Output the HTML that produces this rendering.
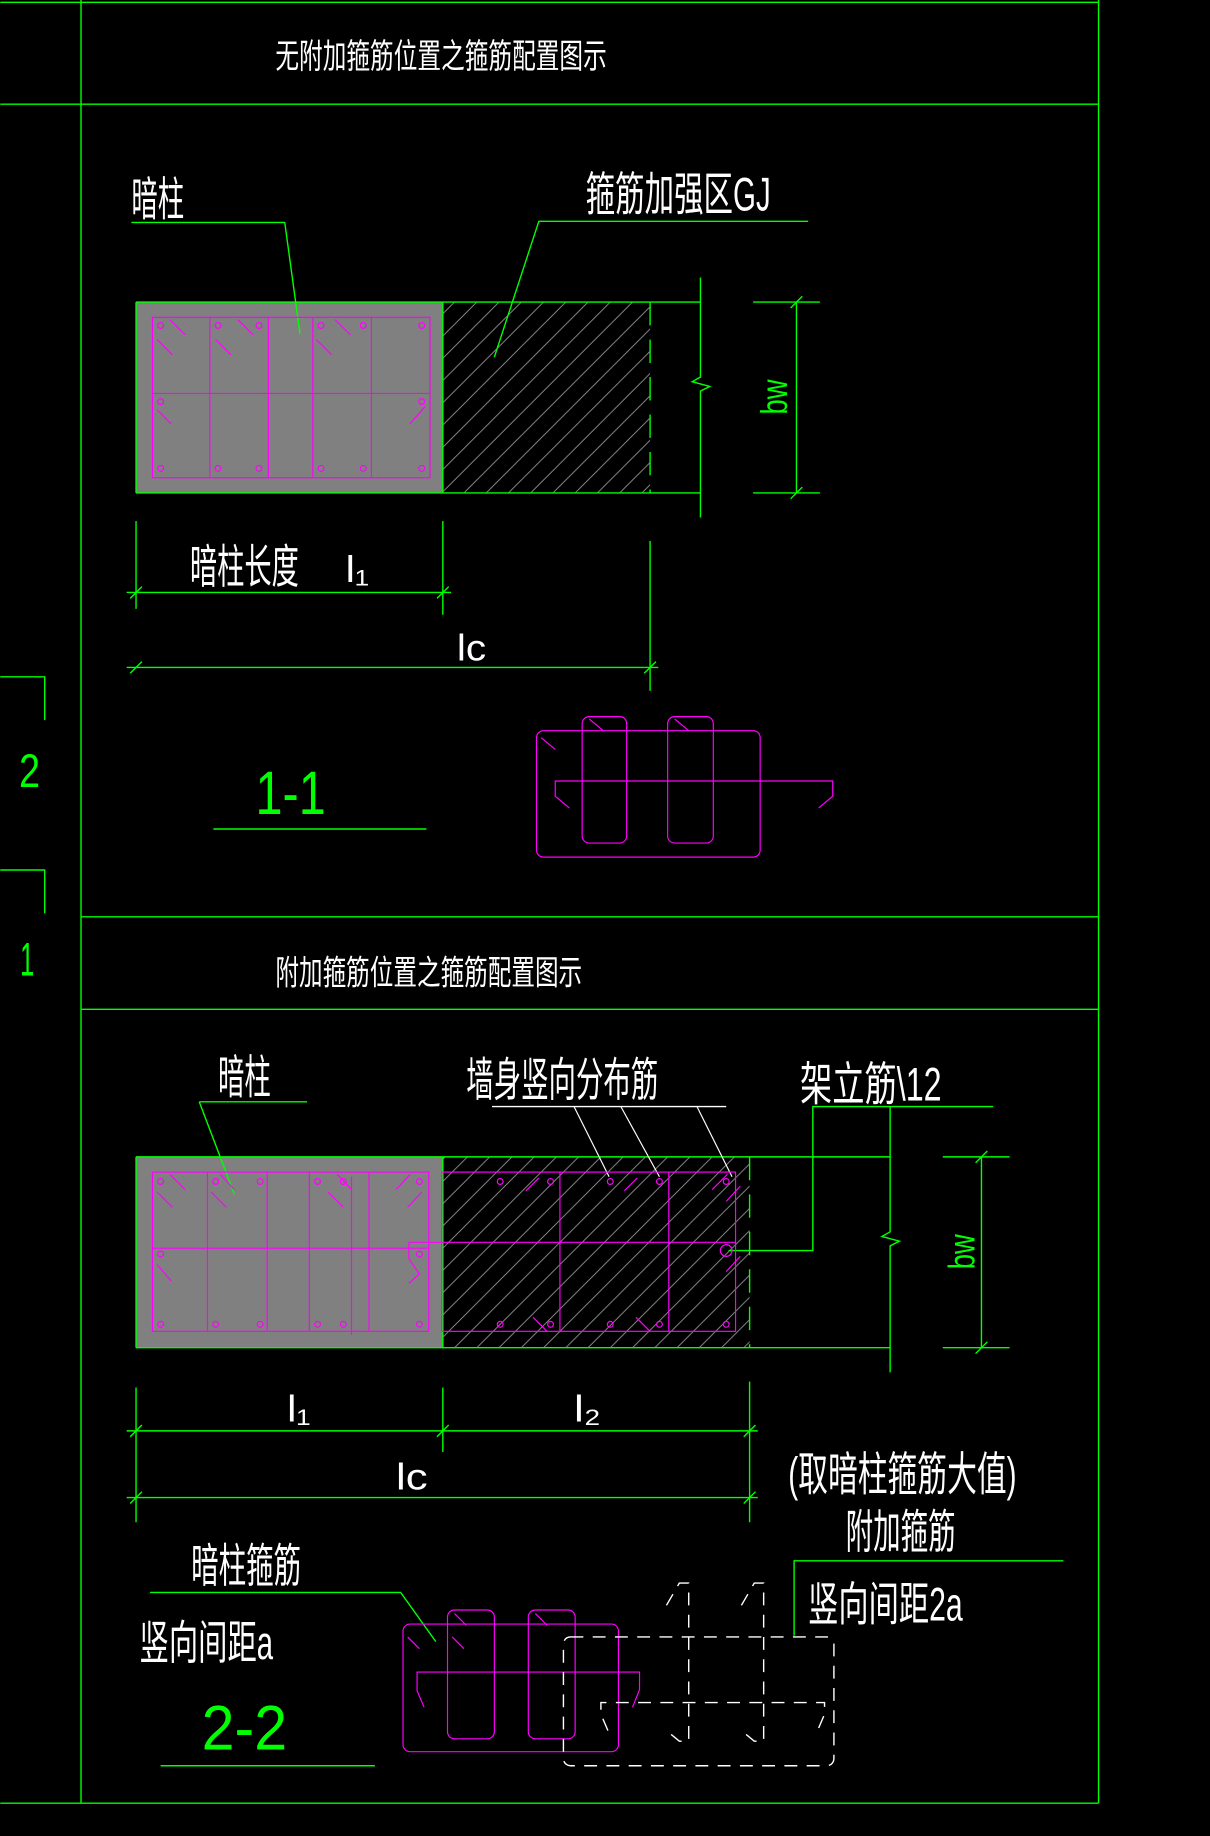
<!DOCTYPE html>
<html><head><meta charset="utf-8"><style>
html,body{margin:0;padding:0;background:#000;}
svg{display:block;}
text{font-family:"Liberation Sans","Noto Sans CJK SC",sans-serif;}
</style></head><body>
<svg width="1210" height="1836" viewBox="0 0 1033 1568" xmlns="http://www.w3.org/2000/svg">
<defs>
<pattern id="h" patternUnits="userSpaceOnUse" width="19" height="19">
<line x1="0" y1="19" x2="19" y2="0" stroke="#9a9a9a" stroke-width="0.7"/>
<line x1="-1" y1="1" x2="1" y2="-1" stroke="#9a9a9a" stroke-width="0.7"/>
<line x1="18" y1="20" x2="20" y2="18" stroke="#9a9a9a" stroke-width="0.7"/>
</pattern>
</defs>
<rect width="1033" height="1568" fill="#000"/>
<g stroke="#00ff00" stroke-width="1.2" fill="none">
<!-- frame -->
<line x1="0" y1="2" x2="938" y2="2"/>
<line x1="0" y1="89" x2="938" y2="89"/>
<line x1="69" y1="0" x2="69" y2="1540"/>
<line x1="938" y1="0" x2="938" y2="1540"/>
<line x1="69" y1="783" x2="938" y2="783"/>
<line x1="69" y1="862" x2="938" y2="862"/>
<line x1="0" y1="1540" x2="938" y2="1540"/>
<polyline points="0,578 38,578 38,615"/>
<polyline points="0,743 38,743 38,780"/>
</g>
<text x="16" y="672" fill="#00ff00" font-size="40" textLength="18" lengthAdjust="spacingAndGlyphs">2</text>
<text x="17" y="833" fill="#00ff00" font-size="40" textLength="12" lengthAdjust="spacingAndGlyphs">1</text>

<!-- titles -->
<text x="235" y="58" fill="#fff" font-size="29" textLength="283" lengthAdjust="spacingAndGlyphs">无附加箍筋位置之箍筋配置图示</text>
<text x="235" y="841" fill="#fff" font-size="29" textLength="262" lengthAdjust="spacingAndGlyphs">附加箍筋位置之箍筋配置图示</text>

<!-- SECTION 1 -->
<rect x="116" y="258" width="262" height="163" fill="#808080"/>
<rect x="378" y="258" width="177" height="163" fill="url(#h)"/>
<g stroke="#00ff00" stroke-width="1.2" fill="none">
<line x1="116" y1="258" x2="598" y2="258"/>
<line x1="116" y1="421" x2="598" y2="421"/>
<line x1="116" y1="258" x2="116" y2="421"/>
<line x1="378" y1="258" x2="378" y2="421"/>
<line x1="555" y1="258" x2="555" y2="421" stroke-dasharray="20,12"/>
<polyline points="598,237 598,322 591,326 606,330 598,334 598,442"/>
<line x1="643" y1="258" x2="700" y2="258"/>
<line x1="643" y1="421" x2="700" y2="421"/>
<line x1="680" y1="258" x2="680" y2="421"/>
<line x1="675" y1="263" x2="685" y2="253"/>
<line x1="675" y1="426" x2="685" y2="416"/>
<!-- leaders -->
<polyline points="112,190 243,190 256,285"/>
<polyline points="690,189 460,189 422,305"/>
<!-- dims -->
<line x1="116" y1="445" x2="116" y2="520"/>
<line x1="378" y1="445" x2="378" y2="525"/>
<line x1="555" y1="462" x2="555" y2="590"/>
<line x1="108" y1="506" x2="385" y2="506"/>
<line x1="108" y1="570" x2="562" y2="570"/>
<line x1="111" y1="511" x2="121" y2="501"/>
<line x1="373" y1="511" x2="383" y2="501"/>
<line x1="111" y1="575" x2="121" y2="565"/>
<line x1="550" y1="575" x2="560" y2="565"/>
<line x1="182" y1="708" x2="364" y2="708"/>
</g>
<g stroke="#ff00ff" stroke-width="1" fill="none">
<rect x="130" y="271" width="237" height="137"/>
<line x1="179" y1="271" x2="179" y2="408"/>
<line x1="229" y1="271" x2="229" y2="408"/>
<line x1="267" y1="271" x2="267" y2="408"/>
<line x1="317" y1="271" x2="317" y2="408"/>
<line x1="130" y1="336" x2="367" y2="336"/>
<circle cx="137" cy="278" r="2.5"/><circle cx="186" cy="278" r="2.5"/><circle cx="221" cy="278" r="2.5"/>
<circle cx="274" cy="278" r="2.5"/><circle cx="310" cy="278" r="2.5"/><circle cx="360" cy="278" r="2.5"/>
<circle cx="137" cy="343" r="2.5"/><circle cx="360" cy="343" r="2.5"/>
<circle cx="137" cy="400" r="2.5"/><circle cx="186" cy="400" r="2.5"/><circle cx="221" cy="400" r="2.5"/>
<circle cx="274" cy="400" r="2.5"/><circle cx="310" cy="400" r="2.5"/><circle cx="360" cy="400" r="2.5"/>
<line x1="145" y1="273" x2="158" y2="286"/><line x1="134" y1="290" x2="147" y2="303"/>
<line x1="203" y1="273" x2="216" y2="286"/><line x1="184" y1="290" x2="197" y2="303"/>
<line x1="286" y1="273" x2="299" y2="286"/><line x1="270" y1="290" x2="283" y2="303"/>
<line x1="134" y1="350" x2="146" y2="362"/><line x1="363" y1="347" x2="350" y2="362"/>
<!-- 1-1 stirrups -->
<rect x="458" y="624" width="191" height="108" rx="6"/>
<rect x="497" y="612" width="38" height="108" rx="6"/>
<rect x="570" y="612" width="39" height="108" rx="6"/>
<polyline points="486,690 474,680 474,667 711,667 711,680 699,690"/>
<line x1="503" y1="614" x2="515" y2="624"/><line x1="576" y1="614" x2="588" y2="624"/>
<line x1="462" y1="630" x2="474" y2="640"/>
</g>
<text x="112" y="184" fill="#fff" font-size="40" textLength="45" lengthAdjust="spacingAndGlyphs">暗柱</text>
<text x="500" y="180" fill="#fff" font-size="40" textLength="158" lengthAdjust="spacingAndGlyphs">箍筋加强区GJ</text>
<text x="162" y="498" fill="#fff" font-size="40" textLength="93" lengthAdjust="spacingAndGlyphs">暗柱长度</text>
<text x="295" y="497" fill="#fff" font-size="32" textLength="20" lengthAdjust="spacingAndGlyphs">l₁</text>
<text x="390" y="564" fill="#fff" font-size="32" textLength="25" lengthAdjust="spacingAndGlyphs">lc</text>
<text x="658" y="340" fill="#00ff00" font-size="32" transform="rotate(-90 672 340)" textLength="30" lengthAdjust="spacingAndGlyphs">bw</text>
<text x="218" y="695" fill="#00ff00" font-size="52" textLength="60" lengthAdjust="spacingAndGlyphs">1-1</text>

<!-- SECTION 2 -->
<rect x="116" y="988" width="262" height="163" fill="#808080"/>
<rect x="378" y="988" width="262" height="163" fill="url(#h)"/>
<g stroke="#00ff00" stroke-width="1.2" fill="none">
<line x1="116" y1="988" x2="760" y2="988"/>
<line x1="116" y1="1151" x2="760" y2="1151"/>
<line x1="116" y1="988" x2="116" y2="1151"/>
<line x1="378" y1="988" x2="378" y2="1151"/>
<line x1="640" y1="988" x2="640" y2="1151" stroke-dasharray="20,12"/>
<polyline points="760,945 760,1052 753,1056 768,1060 760,1064 760,1172"/>
<line x1="805" y1="988" x2="862" y2="988"/>
<line x1="805" y1="1151" x2="862" y2="1151"/>
<line x1="838" y1="988" x2="838" y2="1151"/>
<line x1="833" y1="993" x2="843" y2="983"/>
<line x1="833" y1="1156" x2="843" y2="1146"/>
<polyline points="170,941 262,941"/>
<line x1="170" y1="941" x2="200" y2="1020"/>
<line x1="420" y1="945" x2="620" y2="945" stroke="#fff"/>
<polyline points="848,945 694,945 694,1068 622,1068"/>
<line x1="116" y1="1185" x2="116" y2="1300"/>
<line x1="378" y1="1185" x2="378" y2="1240"/>
<line x1="640" y1="1180" x2="640" y2="1300"/>
<line x1="108" y1="1222" x2="647" y2="1222"/>
<line x1="108" y1="1279" x2="647" y2="1279"/>
<line x1="111" y1="1227" x2="121" y2="1217"/><line x1="373" y1="1227" x2="383" y2="1217"/><line x1="635" y1="1227" x2="645" y2="1217"/>
<line x1="111" y1="1284" x2="121" y2="1274"/><line x1="635" y1="1284" x2="645" y2="1274"/>
<polyline points="678,1397 678,1333 908,1333"/>
<polyline points="128,1360 342,1360 372,1402"/>
<line x1="137" y1="1508" x2="320" y2="1508"/>
</g>
<g stroke="#fff" stroke-width="1" fill="none">
<line x1="490" y1="945" x2="520" y2="1005"/>
<line x1="530" y1="945" x2="563" y2="1005"/>
<line x1="595" y1="945" x2="625" y2="1005"/>
</g>
<g stroke="#ff00ff" stroke-width="1" fill="none">
<rect x="130" y="1001" width="236" height="136"/>
<line x1="130" y1="1066" x2="366" y2="1066"/>
<line x1="177" y1="1001" x2="177" y2="1137"/>
<line x1="228" y1="1001" x2="228" y2="1137"/>
<line x1="264" y1="1001" x2="264" y2="1137"/>
<line x1="300" y1="1005" x2="300" y2="1140"/>
<line x1="315" y1="1001" x2="315" y2="1137"/>
<rect x="377" y="1001" width="251" height="136"/>
<line x1="349" y1="1061" x2="628" y2="1061"/>
<polyline points="349,1061 349,1075 358,1088 349,1096"/>
<line x1="478" y1="1001" x2="478" y2="1137"/>
<line x1="571" y1="1001" x2="571" y2="1137"/>
<circle cx="137" cy="1009" r="2.5"/><circle cx="184" cy="1009" r="2.5"/><circle cx="222" cy="1009" r="2.5"/>
<circle cx="271" cy="1009" r="2.5"/><circle cx="293" cy="1009" r="2.5"/><circle cx="358" cy="1009" r="2.5"/>
<circle cx="137" cy="1071" r="2.5"/><circle cx="358" cy="1071" r="2.5"/>
<circle cx="137" cy="1131" r="2.5"/><circle cx="184" cy="1131" r="2.5"/><circle cx="222" cy="1131" r="2.5"/>
<circle cx="271" cy="1131" r="2.5"/><circle cx="293" cy="1131" r="2.5"/><circle cx="358" cy="1131" r="2.5"/>
<circle cx="427" cy="1009" r="2.5"/><circle cx="470" cy="1009" r="2.5"/><circle cx="521" cy="1009" r="2.5"/>
<circle cx="563" cy="1009" r="2.5"/><circle cx="620" cy="1009" r="2.5"/>
<circle cx="427" cy="1131" r="2.5"/><circle cx="470" cy="1131" r="2.5"/><circle cx="521" cy="1131" r="2.5"/>
<circle cx="563" cy="1131" r="2.5"/><circle cx="620" cy="1131" r="2.5"/>
<circle cx="620" cy="1068" r="5"/>
<line x1="145" y1="1003" x2="158" y2="1016"/><line x1="134" y1="1018" x2="147" y2="1031"/>
<line x1="188" y1="1003" x2="200" y2="1016"/><line x1="180" y1="1018" x2="193" y2="1031"/>
<line x1="288" y1="1003" x2="300" y2="1016"/><line x1="280" y1="1018" x2="293" y2="1031"/>
<line x1="350" y1="1003" x2="338" y2="1016"/><line x1="360" y1="1018" x2="348" y2="1031"/>
<line x1="134" y1="1080" x2="146" y2="1094"/>
<line x1="460" y1="1006" x2="449" y2="1017"/><line x1="544" y1="1006" x2="533" y2="1017"/>
<line x1="621" y1="1003" x2="608" y2="1016"/><line x1="632" y1="1013" x2="620" y2="1026"/>
<line x1="632" y1="1073" x2="620" y2="1086"/>
<line x1="455" y1="1125" x2="467" y2="1137"/><line x1="543" y1="1125" x2="555" y2="1137"/>
<!-- 2-2 stirrups -->
<rect x="344" y="1387" width="184" height="109" rx="6"/>
<rect x="382" y="1375" width="40" height="110" rx="6"/>
<rect x="451" y="1375" width="40" height="110" rx="6"/>
<polyline points="362,1458 356,1444 356,1428 546,1428 546,1443 540,1458"/>
<line x1="388" y1="1378" x2="398" y2="1388"/><line x1="457" y1="1378" x2="467" y2="1388"/>
<line x1="348" y1="1398" x2="358" y2="1408"/><line x1="386" y1="1398" x2="396" y2="1408"/>
</g>
<g stroke="#fff" stroke-width="1.2" fill="none" stroke-dasharray="11,8">
<rect x="481" y="1398" width="231" height="110" rx="6"/>
<polyline points="519,1478 513,1464 513,1454 704,1454 704,1464 698,1478"/>
<polyline points="569,1371 580,1352 588,1352 588,1487 580,1487 569,1478"/>
<polyline points="633,1371 644,1352 652,1352 652,1487 644,1487 633,1478"/>
</g>
<text x="186" y="934" fill="#fff" font-size="40" textLength="45" lengthAdjust="spacingAndGlyphs">暗柱</text>
<text x="398" y="936" fill="#fff" font-size="40" textLength="164" lengthAdjust="spacingAndGlyphs">墙身竖向分布筋</text>
<text x="683" y="940" fill="#fff" font-size="40" textLength="121" lengthAdjust="spacingAndGlyphs">架立筋\12</text>
<text x="818" y="1070" fill="#00ff00" font-size="32" transform="rotate(-90 832 1070)" textLength="30" lengthAdjust="spacingAndGlyphs">bw</text>
<text x="245" y="1214" fill="#fff" font-size="32" textLength="20" lengthAdjust="spacingAndGlyphs">l₁</text>
<text x="490" y="1214" fill="#fff" font-size="32" textLength="23" lengthAdjust="spacingAndGlyphs">l₂</text>
<text x="338" y="1272" fill="#fff" font-size="32" textLength="27" lengthAdjust="spacingAndGlyphs">lc</text>
<text x="673" y="1273" fill="#fff" font-size="40" textLength="195" lengthAdjust="spacingAndGlyphs">(取暗柱箍筋大值)</text>
<text x="722" y="1322" fill="#fff" font-size="40" textLength="94" lengthAdjust="spacingAndGlyphs">附加箍筋</text>
<text x="690" y="1384" fill="#fff" font-size="40" textLength="132" lengthAdjust="spacingAndGlyphs">竖向间距2a</text>
<text x="163" y="1351" fill="#fff" font-size="40" textLength="94" lengthAdjust="spacingAndGlyphs">暗柱箍筋</text>
<text x="119" y="1417" fill="#fff" font-size="40" textLength="114" lengthAdjust="spacingAndGlyphs">竖向间距a</text>
<text x="172" y="1494" fill="#00ff00" font-size="54" textLength="73" lengthAdjust="spacingAndGlyphs">2-2</text>
</svg>
</body></html>
